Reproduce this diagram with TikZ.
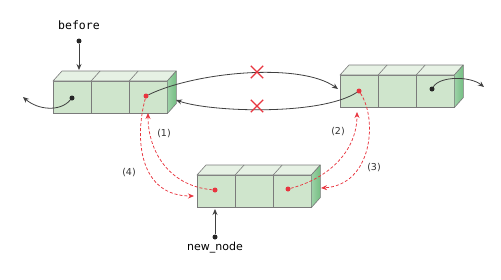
\documentclass[tikz,border=0pt]{standalone}
\usepackage{fontspec}
\setmainfont{DejaVu Sans}
\newfontfamily\monof{DejaVu Sans Mono}
\usetikzlibrary{arrows.meta,shapes.misc}
\definecolor{frontg}{HTML}{CFE5CC}
\definecolor{topg}{HTML}{E6F1E4}
\definecolor{sideg}{HTML}{74BE82}
\definecolor{edgeg}{HTML}{7A7A7A}
\definecolor{redc}{HTML}{E8353F}
\tikzset{
  cell/.style={draw=edgeg, fill=frontg, minimum width=37.5pt, minimum height=32pt, inner sep=0pt, line width=0.6pt},
  face/.style={draw=edgeg, line width=0.6pt, line join=round},
  bdot/.style={circle, fill=black!85, inner sep=0pt, minimum size=5pt},
  rdot/.style={circle, fill=redc, inner sep=0pt, minimum size=5pt},
  link/.style={draw=black!75, line width=0.8pt, -{Stealth[length=6pt,width=5pt]}},
  rlink/.style={draw=redc, line width=0.75pt, dash pattern=on 3pt off 2pt, -{Stealth[length=6pt,width=5pt]}},
  xmark/.style={cross out, draw=redc, line width=1.3pt, minimum size=11pt, inner sep=0pt},
  steplbl/.style={font=\fontsize{9.5}{10}\selectfont, text=black!80},
}
\newcommand{\mylistnode}[3]{%
  % #1 name, #2 x of left front edge, #3 y of top front edge
  \node[cell, anchor=north west] (#1a) at (#2,#3) {};
  \node[cell, anchor=north west] (#1b) at (#1a.north east) {};
  \node[cell, anchor=north west] (#1c) at (#1b.north east) {};
  \path[face, fill=topg] (#1a.north west) -- ++(9pt,10pt) -- ([shift={(9pt,10pt)}]#1c.north east) -- (#1c.north east) -- cycle;
  \path[face] ([shift={(9pt,10pt)}]#1b.north west) -- (#1b.north west);
  \path[face] ([shift={(9pt,10pt)}]#1c.north west) -- (#1c.north west);
  \path[face, left color=sideg!70, right color=sideg] (#1c.north east) -- ++(9pt,10pt) -- ([shift={(9pt,10pt)}]#1c.south east) -- (#1c.south east) -- cycle;
}
\begin{document}
\begin{tikzpicture}[x=1pt,y=-1pt]
\useasboundingbox (0,0) rectangle (501,279);

\mylistnode{L}{53}{81}
\mylistnode{R}{340}{75}
\mylistnode{N}{197}{175}

% dots
\node[bdot] (Ldot) at (72,98) {};
\node[rdot] (Lr) at (146,96) {};
\node[rdot] (Rr) at (359,91) {};
\node[bdot] (Rdot) at (432,89) {};
\node[rdot] (Nl) at (215,190) {};
\node[rdot] (Nr) at (288,189) {};

% outer links
\coordinate (Lout) at (23,97);
\coordinate (Rout) at (484,87);
\draw[link] (Ldot) .. controls (60,112) and (38,110) .. (Lout);
\draw[link] (Rdot) .. controls (440,76) and (470,76) .. (Rout);

% before pointer
\node[font=\monof\fontsize{11.5}{12}\selectfont] (before) at (79,25) {before};
\node[bdot] (bfdot) at (79,41) {};
\coordinate (bftip) at (79,70);
\draw[link] (bfdot) -- (bftip);

% new_node pointer
\node[font=\fontsize{11}{12}\selectfont] (newnode) at (215,248) {new\_node};
\node[bdot] (nndot) at (215,237) {};
\coordinate (nntip) at (215,209);
\draw[link] (nndot) -- (nntip);

% old links
\coordinate (Rin) at (338,89);
\coordinate (Lin) at (176,100);
\draw[link] (Lr) .. controls (195,72) and (300,62) .. (Rin);
\draw[link] (Rr) .. controls (320,116) and (210,112) .. (Lin);
\node[xmark] (x1) at (257,72) {};
\node[xmark] (x2) at (257,106) {};

% new links
\coordinate (t1) at (148,113);
\coordinate (t4) at (194,196);
\coordinate (t2) at (357,112);
\coordinate (t3) at (321,188);
\draw[rlink] (Nl) .. controls (168,186) and (148,150) .. (t1);
\draw[rlink] (Lr) .. controls (134,140) and (140,196) .. (t4);
\draw[rlink] (Nr) .. controls (330,178) and (357,150) .. (t2);
\draw[rlink] (Rr) .. controls (378,120) and (372,185) .. (t3);

\node[steplbl] (s1) at (164,134) {(1)};
\node[steplbl] (s2) at (338,132) {(2)};
\node[steplbl] (s3) at (374,168) {(3)};
\node[steplbl] (s4) at (129,173) {(4)};
\end{tikzpicture}
\end{document}
